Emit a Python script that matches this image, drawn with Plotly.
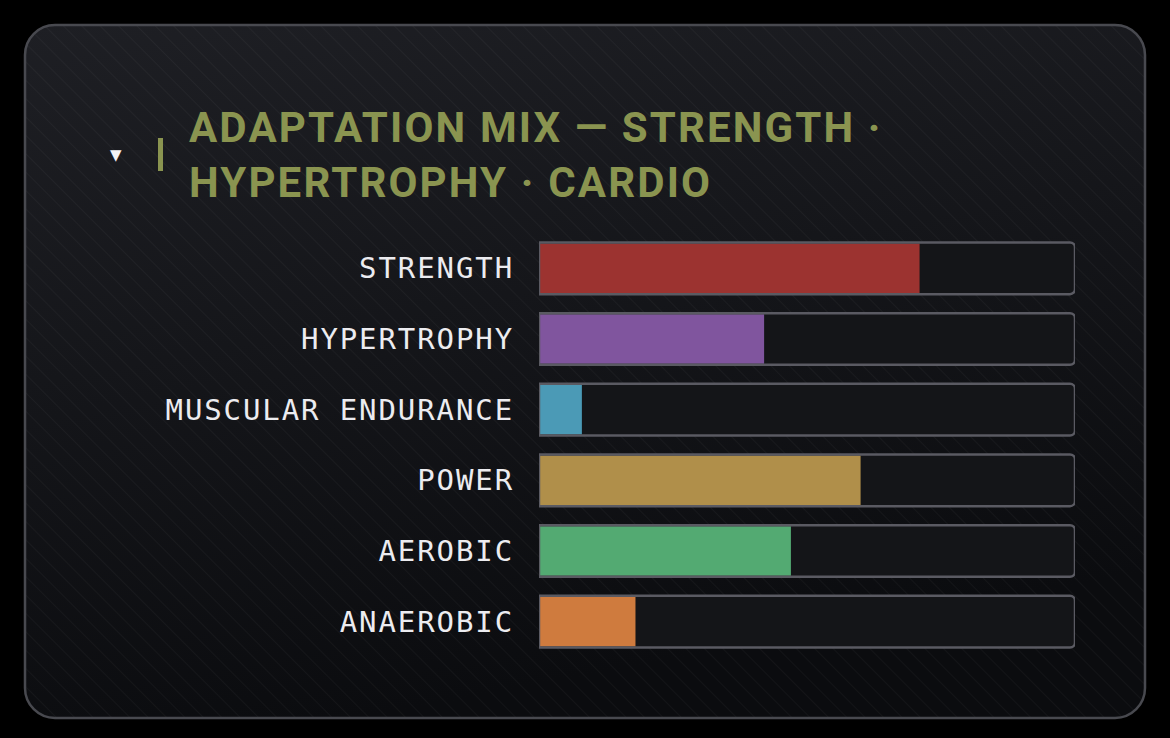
import base64
import plotly.graph_objects as go

# ---- data ----
categories = ["STRENGTH", "HYPERTROPHY", "MUSCULAR ENDURANCE", "POWER", "AEROBIC", "ANAEROBIC"]
values = [71, 42, 8, 60, 47, 18]
colors = ["#9c3330", "#80559e", "#4b9ab6", "#b08f4a", "#53aa72", "#cf7b3e"]
max_value = 100
title_text = "ADAPTATION MIX — STRENGTH ·<br>HYPERTROPHY · CARDIO"

W, H = 1170, 738
ML, MR, MT, MB = 539, 95, 233, 81
PW, PH = W - ML - MR, H - MT - MB


def px(x):
    return (x - ML) / PW


def py(y):
    return 1 - (y - MT) / PH


svg = f'''<svg xmlns="http://www.w3.org/2000/svg" width="{W}" height="{H}" viewBox="0 0 {W} {H}">
<defs>
<linearGradient id="g" x1="0" y1="0" x2="0.3" y2="1">
<stop offset="0" stop-color="#1e1f24"/>
<stop offset="1" stop-color="#0b0c0f"/>
</linearGradient>
<pattern id="p" patternUnits="userSpaceOnUse" width="13" height="13" patternTransform="rotate(-45)">
<line x1="0" y1="0" x2="0" y2="13" stroke="rgba(255,255,255,0.035)" stroke-width="2"/>
</pattern>
</defs>
<rect x="0" y="0" width="{W}" height="{H}" fill="#000"/>
<rect x="25" y="25" width="1120" height="693" rx="30" ry="30" fill="url(#g)"/>
<rect x="25" y="25" width="1120" height="693" rx="30" ry="30" fill="url(#p)" stroke="#48494f" stroke-width="2.5"/>
</svg>'''
src = "data:image/svg+xml;base64," + base64.b64encode(svg.encode()).decode()

fig = go.Figure()
fig.add_trace(go.Bar(
    y=categories, x=[max_value] * len(categories), orientation="h",
    marker=dict(color="#141518", line=dict(width=0), cornerradius=5),
    width=0.73, hoverinfo="skip", showlegend=False,
))
fig.add_trace(go.Bar(
    y=categories, x=values, orientation="h",
    marker=dict(color=colors, line=dict(width=0)),
    width=0.70, showlegend=False,
))
fig.add_trace(go.Bar(
    y=categories, x=[max_value] * len(categories), orientation="h",
    marker=dict(color="rgba(0,0,0,0)", line=dict(width=2.5, color="#5a5a62"), cornerradius=5),
    width=0.73, hoverinfo="skip", showlegend=False,
))

fig.update_layout(
    width=W, height=H,
    margin=dict(l=ML, r=MR, t=MT, b=MB, pad=0),
    paper_bgcolor="#000000", plot_bgcolor="rgba(0,0,0,0)",
    barmode="overlay",
    xaxis=dict(range=[0, max_value], visible=False, fixedrange=True),
    yaxis=dict(
        autorange="reversed", showgrid=False, zeroline=False, showline=False,
        ticks="", ticklabelstandoff=24,
        tickfont=dict(family="DejaVu Sans Mono, monospace", size=29, color="#ececf0"),
        fixedrange=True,
    ),
    images=[dict(
        source=src, xref="paper", yref="paper",
        x=px(0), y=py(0), sizex=W / PW, sizey=H / PH,
        xanchor="left", yanchor="top", sizing="stretch", layer="below",
    )],
    shapes=[dict(
        type="line", xref="paper", yref="paper",
        x0=px(160.5), x1=px(160.5), y0=py(138), y1=py(171),
        line=dict(color="#8a9450", width=5),
    )],
    annotations=[
        dict(
            text=title_text, xref="paper", yref="paper",
            x=px(187), y=py(101), xanchor="left", yanchor="top", align="left",
            showarrow=False,
            font=dict(family="Roboto, sans-serif", size=42, color="#8a9450", weight="bold"),
        ),
        dict(
            text="▼", xref="paper", yref="paper",
            x=px(116), y=py(155), xanchor="center", yanchor="middle",
            showarrow=False, font=dict(family="DejaVu Sans", size=15, color="#f2f2f6"),
        ),
    ],
)

post = """
var gd = document.getElementsByClassName('plotly-graph-div')[0];
function spacing() {
  gd.querySelectorAll('.ytick text').forEach(function(t){ t.style.letterSpacing = '1.9px'; });
  var a = gd.querySelectorAll('.annotation-text')[0];
  if (a) { a.style.letterSpacing = '2.15px'; }
}
spacing();
gd.on('plotly_afterplot', spacing);
"""

fig.write_html("out.html", post_script=post)
